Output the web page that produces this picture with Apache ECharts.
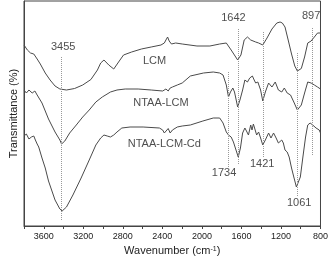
<!DOCTYPE html>
<html lang="en">
<head>
  <meta charset="UTF-8">
  <title>FTIR spectra</title>
  <script src="https://cdn.jsdelivr.net/npm/echarts@6/dist/echarts.min.js"></script>
</head>
<body style="margin:0">
<div id="main" style="width: 331px;height:263px;"></div>
<script type="text/javascript">

// spectra, [wavenumber, relative transmittance]
const lcm = [
  [3800, 182], [3766, 177], [3734, 174], [3701, 173], [3685, 172], [3667, 168], [3635, 163],
  [3585, 154], [3536, 147], [3486, 141], [3437, 138], [3370, 137], [3288, 138.5], [3206, 142],
  [3123, 147.5], [3057, 157], [3024, 164], [2991, 167], [2942, 162], [2892, 158], [2843, 165],
  [2793, 172], [2711, 175], [2612, 178], [2513, 180], [2414, 182], [2380, 184], [2364, 187],
  [2347, 190], [2331, 186], [2308, 183], [2265, 184], [2199, 183], [2050, 181], [1919, 181],
  [1820, 183], [1753, 184], [1704, 177], [1638, 167], [1605, 172], [1572, 187], [1539, 190],
  [1506, 187], [1456, 185], [1426, 184], [1384, 182], [1341, 189], [1291, 198], [1242, 204],
  [1209, 205], [1186, 204], [1159, 200], [1127, 187], [1093, 173], [1060, 161], [1034, 156],
  [994, 158.5], [961, 170], [929, 184], [895, 186], [862, 190], [830, 194], [800, 194]
];
const ntaaLcm = [
  [3800, 137], [3776, 134], [3750, 137], [3717, 134], [3690, 136], [3667, 132], [3618, 124],
  [3552, 108], [3486, 95], [3437, 87], [3420, 83], [3387, 86], [3338, 94], [3271, 102],
  [3206, 110], [3140, 117], [3073, 125], [3008, 130], [2925, 135], [2859, 137], [2776, 138],
  [2645, 138], [2513, 137], [2397, 136], [2380, 134], [2364, 138], [2357, 140], [2341, 136],
  [2321, 139], [2298, 140], [2249, 142], [2199, 144], [2117, 151], [1984, 154], [1885, 155],
  [1820, 154], [1786, 152], [1753, 142], [1731, 130], [1711, 135], [1687, 139], [1670, 135],
  [1638, 120], [1615, 127], [1588, 137], [1565, 147], [1539, 145], [1516, 149], [1489, 151],
  [1471, 147], [1456, 144], [1434, 145], [1406, 137], [1384, 126], [1358, 135], [1325, 144],
  [1291, 140], [1258, 145], [1226, 137], [1192, 135], [1166, 139], [1137, 134], [1103, 132],
  [1070, 125], [1034, 117], [994, 122], [961, 134], [929, 145], [895, 144], [862, 142],
  [830, 140], [800, 138]
];
const ntaaLcmCd = [
  [3800, 91], [3776, 93], [3750, 88], [3725, 90], [3701, 91], [3685, 87], [3667, 83],
  [3651, 80], [3618, 69], [3585, 59], [3552, 46], [3486, 27], [3437, 18], [3414, 16],
  [3370, 20], [3305, 32], [3222, 49], [3140, 67], [3073, 82], [3024, 89], [2991, 92],
  [2958, 91], [2925, 90], [2892, 92], [2859, 95], [2810, 99], [2727, 100], [2595, 100],
  [2430, 99], [2397, 97], [2380, 94], [2364, 96], [2341, 98.5], [2321, 94], [2298, 97],
  [2249, 100], [2199, 101], [2117, 102], [1990, 106], [1885, 109], [1820, 109], [1786, 104],
  [1753, 95], [1731, 92], [1704, 90], [1681, 85], [1655, 77], [1632, 70], [1610, 79],
  [1588, 94], [1565, 99], [1549, 96], [1529, 92], [1506, 102], [1493, 97], [1479, 103],
  [1446, 92], [1426, 95], [1406, 89], [1384, 82], [1358, 87], [1325, 94], [1301, 89],
  [1275, 94], [1249, 89], [1226, 84], [1192, 87], [1176, 84], [1159, 77], [1137, 75],
  [1117, 70], [1093, 59], [1070, 50], [1044, 40], [1028, 39], [1004, 50], [978, 70],
  [951, 90], [929, 102], [905, 104], [879, 102], [845, 99], [813, 97], [800, 94]
];

// dotted guide lines: [wavenumber, top, bottom]
const peakLines = [
  [3427, 170, 7], [1630, 198, 62], [886, 199, 72],
  [1734, 155, 60], [1382, 195, 70], [1034, 174, 30]
];
// peak labels: [text, wavenumber, y]
const peakLabels = [
  ['3455', 3404, 180], ['1642', 1681, 209], ['897', 895, 211],
  ['1734', 1776, 54], ['1421', 1390, 63], ['1061', 1016, 24]
];
const curveNames = [
  ['LCM', 2479, 166], ['NTAA-LCM', 2414, 124], ['NTAA-LCM-Cd', 2380, 83]
];

const font = 'Liberation Sans, Arial, sans-serif';
const lineColor = '#4a4a4a';

const myChart = echarts.init(document.getElementById('main'));

function spectrum(name, data) {
  return {
    name: name,
    type: 'line',
    data: data,
    showSymbol: false,
    lineStyle: {color: lineColor, width: 1},
    itemStyle: {color: lineColor},
    silent: true
  };
}

const option = {
  animation: false,
  textStyle: {fontFamily: font},
  grid: {
    left: 18, right: 8, top: 1, bottom: 37,
    show: true, borderColor: '#444', borderWidth: 1
  },
  xAxis: {
    type: 'value',
    inverse: true,
    min: 800,
    max: 3800,
    interval: 200,
    name: 'Wavenumber (cm{sup|-1})',
    nameLocation: 'middle',
    nameGap: 17,
    nameTextStyle: {
      fontSize: 11, color: '#222', fontFamily: font,
      rich: {sup: {fontSize: 7, verticalAlign: 'top', color: '#222', padding: [0, 0, 4, 0]}}
    },
    axisLine: {lineStyle: {color: '#444'}},
    axisTick: {length: 3, lineStyle: {color: '#444'}},
    axisLabel: {
      fontSize: 9, color: '#222', margin: 6, fontFamily: font,
      formatter: v => (v % 400 === 0 && v < 3800) ? String(v) : ''
    },
    splitLine: {show: false}
  },
  yAxis: {
    type: 'value',
    min: 1,
    max: 226,
    name: 'Transmittance (%)',
    nameLocation: 'middle',
    nameGap: 5,
    nameTextStyle: {fontSize: 11, color: '#222', fontFamily: font},
    axisLine: {show: true, lineStyle: {color: '#444'}},
    axisTick: {show: false},
    axisLabel: {show: false},
    splitLine: {show: false}
  },
  series: [
    spectrum('LCM', lcm),
    spectrum('NTAA-LCM', ntaaLcm),
    spectrum('NTAA-LCM-Cd', ntaaLcmCd),
    {
      type: 'line',
      data: [],
      silent: true,
      markLine: {
        silent: true,
        symbol: ['none', 'none'],
        label: {show: false},
        lineStyle: {color: '#999', width: 1, type: [1, 1]},
        data: peakLines.map(p => [{coord: [p[0], p[1]]}, {coord: [p[0], p[2]]}])
      }
    },
    {
      type: 'scatter',
      symbolSize: 0,
      silent: true,
      data: peakLabels.map(p => [p[1], p[2], p[0]]),
      label: {
        show: true, position: 'inside', fontSize: 11, color: '#222', fontFamily: font,
        formatter: p => p.data[2]
      }
    },
    {
      type: 'scatter',
      symbolSize: 0,
      silent: true,
      data: curveNames.map(p => [p[1], p[2], p[0]]),
      label: {
        show: true, position: 'inside', fontSize: 11, color: '#222', fontFamily: font,
        formatter: p => p.data[2]
      }
    }
  ]
};
myChart.setOption(option);
</script>
</body>
</html>
